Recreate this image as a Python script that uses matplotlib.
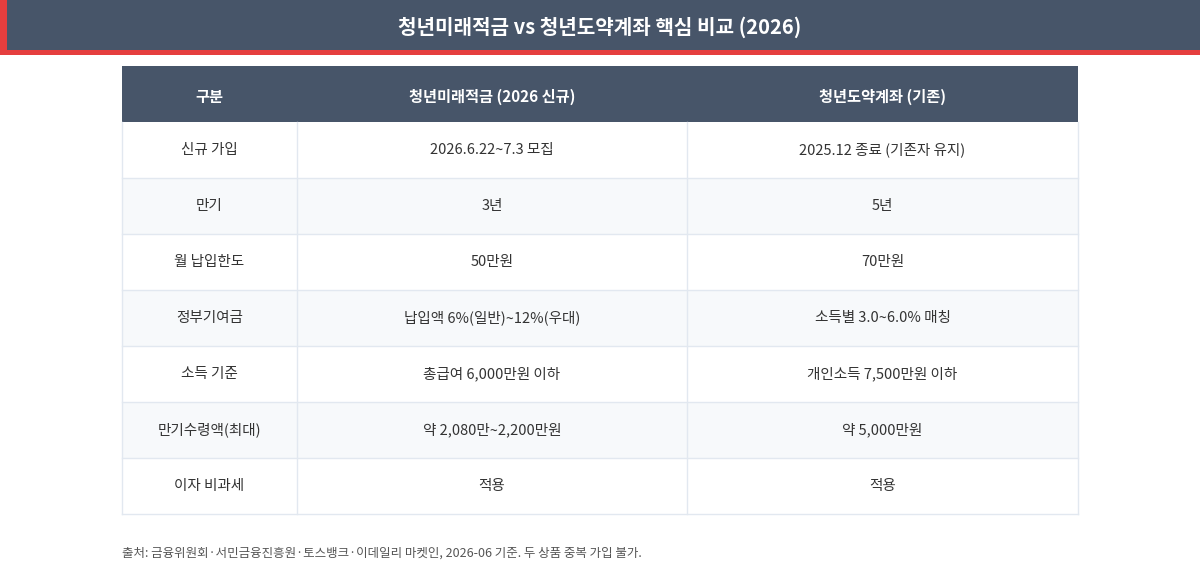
import matplotlib
matplotlib.use("Agg")
import matplotlib.pyplot as plt
from matplotlib.patches import Rectangle

plt.rcParams['font.family'] = ['Noto Sans CJK KR', 'DejaVu Sans']

title = "청년미래적금 vs 청년도약계좌 핵심 비교 (2026)"
headers = ["구분", "청년미래적금 (2026 신규)", "청년도약계좌 (기존)"]
categories = ["신규 가입", "만기", "월 납입한도", "정부기여금", "소득 기준", "만기수령액(최대)", "이자 비과세"]
col_future = ["2026.6.22~7.3 모집", "3년", "50만원", "납입액 6%(일반)~12%(우대)",
              "총급여 6,000만원 이하", "약 2,080만~2,200만원", "적용"]
col_leap = ["2025.12 종료 (기존자 유지)", "5년", "70만원", "소득별 3.0~6.0% 매칭",
            "개인소득 7,500만원 이하", "약 5,000만원", "적용"]
footnote = "출처: 금융위원회·서민금융진흥원·토스뱅크·이데일리 마켓인, 2026-06 기준. 두 상품 중복 가입 불가."

W, H = 1200, 570
fig = plt.figure(figsize=(W/100, H/100), dpi=100)
ax = fig.add_axes([0, 0, 1, 1])
ax.set_xlim(0, W); ax.set_ylim(H, 0); ax.axis('off')

dark = '#475569'
red = '#e53e3e'
ax.add_patch(Rectangle((0, 0), W, 55, color=red, lw=0))
ax.add_patch(Rectangle((7, 0), W-7, 50, color=dark, lw=0))
ax.text(W/2, 27, title, color='white', fontsize=14.5, fontweight='bold', ha='center', va='center')

xs = [122, 297, 687, 1078]
top, hh, rh = 66, 56, 56
ax.add_patch(Rectangle((xs[0], top), xs[-1]-xs[0], hh, color=dark, lw=0))
for i, h in enumerate(headers):
    ax.text((xs[i]+xs[i+1])/2, top+hh/2+3, h, color='white', fontsize=11, fontweight='bold',
            ha='center', va='center')

line = '#e2e8f0'
for r in range(len(categories)):
    y0 = top + hh + r*rh
    bg = 'white' if r % 2 == 0 else '#f7f9fb'
    ax.add_patch(Rectangle((xs[0], y0), xs[-1]-xs[0], rh, facecolor=bg, edgecolor='none'))
    vals = [categories[r], col_future[r], col_leap[r]]
    for i, v in enumerate(vals):
        ax.text((xs[i]+xs[i+1])/2, y0+rh/2, v, color='#333333', fontsize=10.5,
                ha='center', va='center')
    ax.plot([xs[0], xs[-1]], [y0+rh, y0+rh], color=line, lw=1)
bottom = top + hh + len(categories)*rh
for x in xs:
    ax.plot([x, x], [top+hh, bottom], color=line, lw=1)

ax.text(122, 553, footnote, color='#555555', fontsize=9, ha='left', va='center')
fig.savefig('out.png', dpi=100)
